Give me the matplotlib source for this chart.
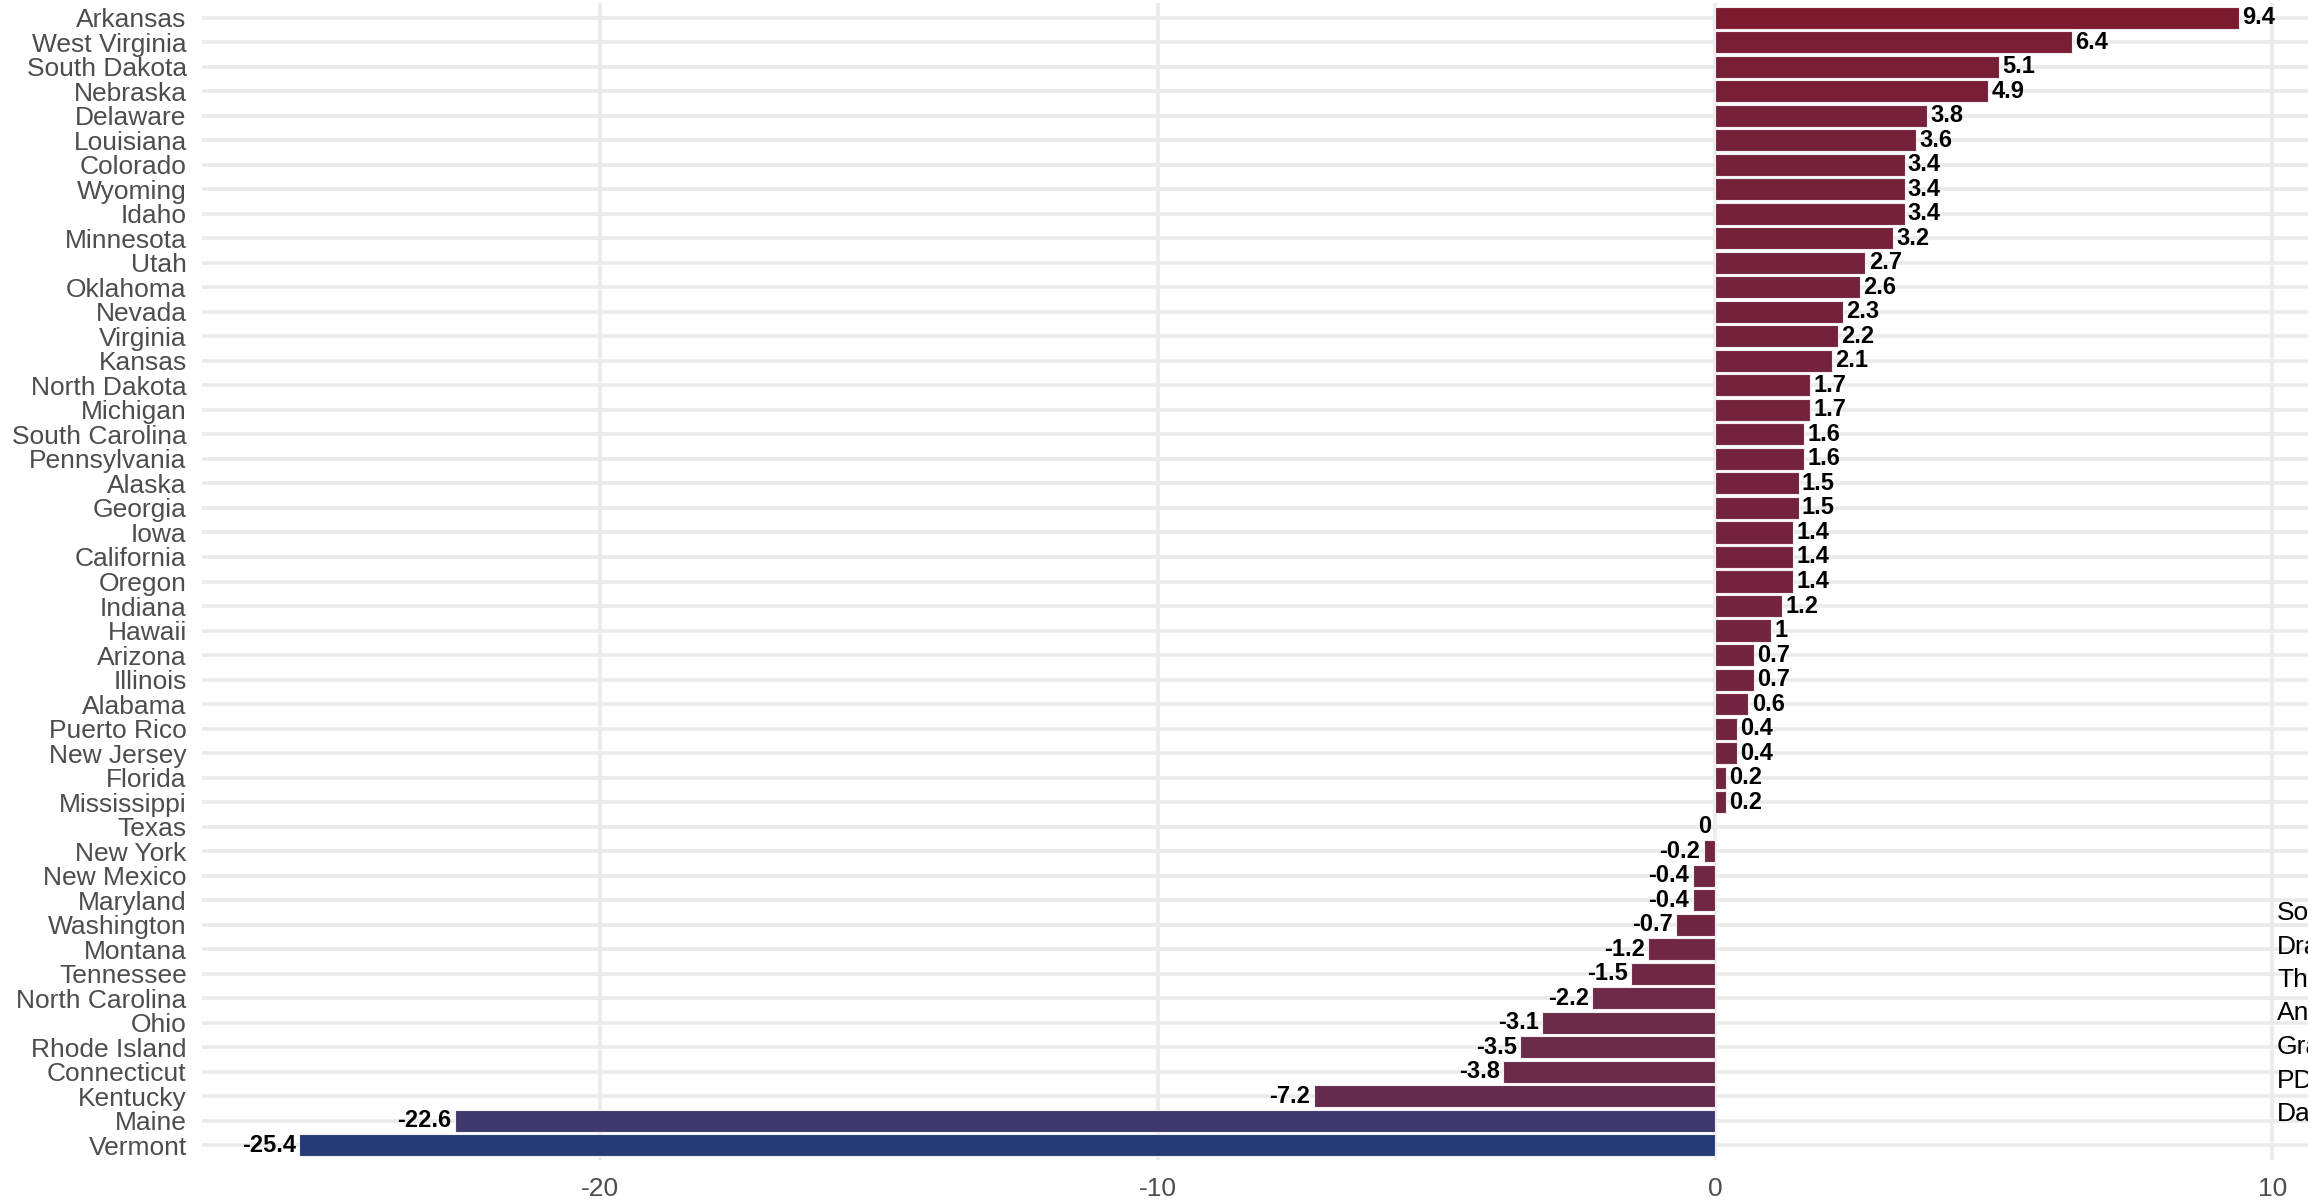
import numpy as np
import matplotlib.pyplot as plt
from matplotlib.colors import LinearSegmentedColormap

# states, top to bottom as in the chart
states = ["Arkansas", "West Virginia", "South Dakota", "Nebraska", "Delaware",
          "Louisiana", "Colorado", "Wyoming", "Idaho", "Minnesota", "Utah",
          "Oklahoma", "Nevada", "Virginia", "Kansas", "North Dakota", "Michigan",
          "South Carolina", "Pennsylvania", "Alaska", "Georgia", "Iowa",
          "California", "Oregon", "Indiana", "Hawaii", "Arizona", "Illinois",
          "Alabama", "Puerto Rico", "New Jersey", "Florida", "Mississippi",
          "Texas", "New York", "New Mexico", "Maryland", "Washington", "Montana",
          "Tennessee", "North Carolina", "Ohio", "Rhode Island", "Connecticut",
          "Kentucky", "Maine", "Vermont"]
values = [9.4, 6.4, 5.1, 4.9, 3.8, 3.6, 3.4, 3.4, 3.4, 3.2, 2.7, 2.6, 2.3, 2.2,
          2.1, 1.7, 1.7, 1.6, 1.6, 1.5, 1.5, 1.4, 1.4, 1.4, 1.2, 1, 0.7, 0.7,
          0.6, 0.4, 0.4, 0.2, 0.2, 0, -0.2, -0.4, -0.4, -0.7, -1.2, -1.5, -2.2,
          -3.1, -3.5, -3.8, -7.2, -22.6, -25.4]
x_ticks = [-20, -10, 0, 10]
caption_lines = ["Source:", "Drawn", "The", "And", "Graph", "PDF", "Data"]

plt.rcParams['font.family'] = ['Liberation Sans', 'DejaVu Sans']

fig = plt.figure(figsize=(23.08, 12.01), dpi=100)
W, H = 2308, 1201
ax = fig.add_axes([202 / W, 1 - 1160 / H, (2336 - 202) / W, (1160 - 3) / H])

n = len(states)
y = np.arange(n)[::-1]
vals = np.array(values)

# fill gradient: navy (low) -> dark red (high), roughly like ggplot's lab blend
cmap = LinearSegmentedColormap.from_list("rb", [
    (0.0, "#263a75"), (0.08, "#3e396c"), (0.52, "#632c4d"),
    (0.64, "#6b2b47"), (0.73, "#722541"), (1.0, "#7c1a2e")])
norm = plt.Normalize(vals.min(), vals.max())
cols = cmap(norm(vals))

ax.barh(y, vals, height=0.9, color=cols, edgecolor="#f2eef2", linewidth=0.8, zorder=3)

for yi, v in zip(y, vals):
    lab = f"{v:g}"
    if v > 0:
        ax.text(v + 0.06, yi, lab, ha="left", va="center", fontsize=17,
                fontweight="bold", color="black", zorder=4)
    else:
        ax.text(v - 0.06, yi, lab, ha="right", va="center", fontsize=17,
                fontweight="bold", color="black", zorder=4)

ax.set_xlim(-27.14, 11.14)
ax.set_ylim(-0.6, n - 0.4)
ax.set_yticks(y)
ax.set_yticklabels(states, fontsize=19, color="#4d4d4d")
ax.set_xticks(x_ticks)
ax.set_xticklabels([str(t) for t in x_ticks], fontsize=19, color="#4d4d4d")
ax.tick_params(axis="both", length=0)
ax.tick_params(axis="y", pad=11)
ax.tick_params(axis="x", pad=12)

ax.grid(True, color="#ebebeb", linewidth=2.6, zorder=0)
for s in ax.spines.values():
    s.set_visible(False)

# caption block on the right (cut off by the figure edge, as in the original)
for i, line in enumerate(caption_lines):
    fig.text(2277 / W, 1 - (913 + i * 33.5) / H, line, fontsize=19,
             ha="left", va="center", color="black")

fig.savefig("out.png", dpi=100)
